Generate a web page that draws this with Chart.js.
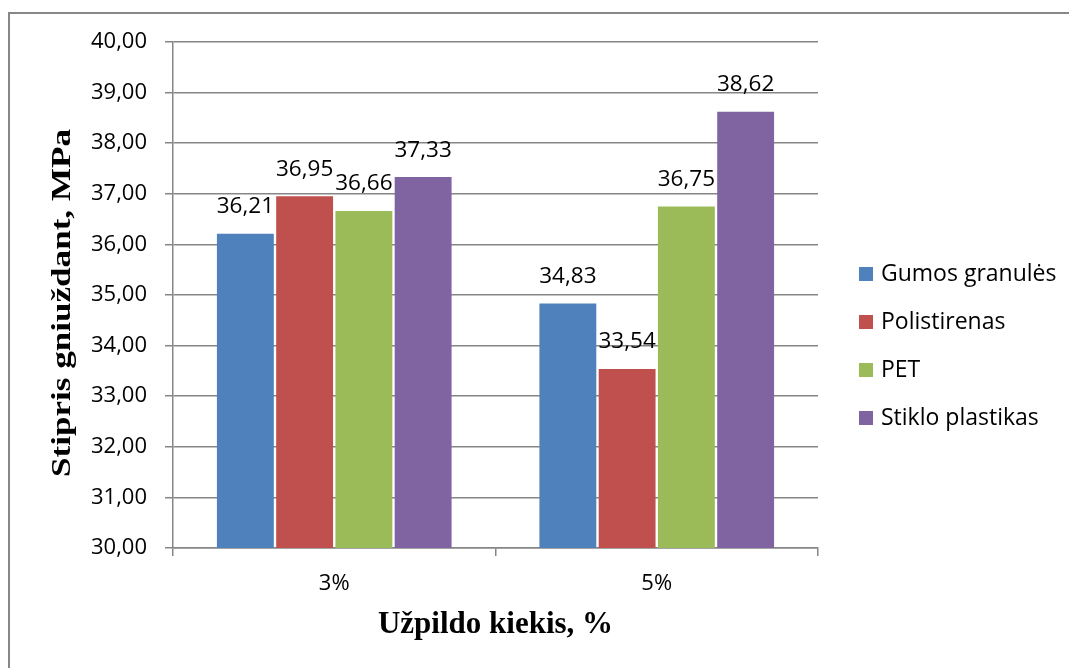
<!DOCTYPE html>
<html lang="lt">
<head>
<meta charset="utf-8">
<title>Stipris gniuždant</title>
<script src="https://cdn.jsdelivr.net/npm/chart.js@4.4.1/dist/chart.umd.min.js"></script>
<style>
  html, body { margin: 0; padding: 0; background: #fff; }
  #wrap { position: relative; width: 1069px; height: 668px; }
</style>
</head>
<body>
<div id="wrap"><canvas id="c" width="1069" height="668"></canvas></div>
<script>
// Filler amount categories
const categories = ['3%', '5%'];

// Compressive strength, MPa, per filler type
const gumosGranules = [36.21, 34.83];
const polistirenas = [36.95, 33.54];
const pet = [36.66, 36.75];
const stikloPlastikas = [37.33, 38.62];

const seriesNames = ['Gumos granulės', 'Polistirenas', 'PET', 'Stiklo plastikas'];
const seriesColors = ['#4F81BD', '#C0504D', '#9BBB59', '#8064A2'];

// Axis range and step
const yMin = 30;
const yMax = 40;
const yStep = 1;

const axisTitleY = 'Stipris gniuždant, MPa';
const axisTitleX = 'Užpildo kiekis, %';

const gridGray = '#868686';
const sansFont = "'Open Sans', 'Noto Sans', sans-serif";
const serifFont = "'Liberation Serif', 'DejaVu Serif', serif";

const fmt = v => v.toFixed(2).replace('.', ',');

// Outer frame of the chart object
const framePlugin = {
  id: 'frame',
  beforeDraw(chart) {
    const ctx = chart.ctx;
    ctx.save();
    ctx.strokeStyle = '#878787';
    ctx.lineWidth = 2;
    ctx.beginPath();
    ctx.moveTo(9, chart.height + 5);
    ctx.lineTo(9, 13);
    ctx.lineTo(chart.width + 5, 13);
    ctx.stroke();
    ctx.restore();
  }
};

// Vertical value-axis title, set in a tall condensed serif
const yTitlePlugin = {
  id: 'yTitle',
  afterDraw(chart) {
    const ctx = chart.ctx;
    const area = chart.chartArea;
    ctx.save();
    ctx.font = 'bold 28px ' + serifFont;
    ctx.fillStyle = '#000';
    ctx.textAlign = 'center';
    ctx.textBaseline = 'middle';
    const w = ctx.measureText(axisTitleY).width;
    ctx.translate(63, (area.top + area.bottom) / 2 + 8);
    ctx.rotate(-Math.PI / 2);
    ctx.scale(348 / w, 1);
    ctx.fillText(axisTitleY, 0, 0);
    ctx.restore();
  }
};

// Value labels above each bar
const valueLabels = {
  id: 'valueLabels',
  afterDatasetsDraw(chart) {
    const ctx = chart.ctx;
    ctx.save();
    ctx.font = '22.5px ' + sansFont;
    ctx.fillStyle = '#000';
    ctx.textAlign = 'center';
    ctx.textBaseline = 'middle';
    chart.data.datasets.forEach((ds, i) => {
      chart.getDatasetMeta(i).data.forEach((bar, j) => {
        ctx.fillText(fmt(ds.data[j]), bar.x, bar.y - 27);
      });
    });
    ctx.restore();
  }
};

// Legend list to the right of the plot
const sideLegend = {
  id: 'sideLegend',
  afterDraw(chart) {
    const ctx = chart.ctx;
    const area = chart.chartArea;
    const x0 = area.right + 41;
    const y0 = area.top + 232;
    ctx.save();
    ctx.font = '23px ' + sansFont;
    ctx.textAlign = 'left';
    ctx.textBaseline = 'middle';
    chart.data.datasets.forEach((ds, i) => {
      const y = y0 + i * 48;
      ctx.fillStyle = ds.backgroundColor;
      ctx.fillRect(x0, y - 7, 14, 14);
      ctx.fillStyle = '#000';
      ctx.fillText(ds.label, x0 + 22, y);
    });
    ctx.restore();
  }
};

const seriesData = [gumosGranules, polistirenas, pet, stikloPlastikas];

new Chart(document.getElementById('c'), {
  type: 'bar',
  data: {
    labels: categories,
    datasets: seriesData.map((d, i) => ({
      label: seriesNames[i],
      data: d,
      backgroundColor: seriesColors[i],
      categoryPercentage: 0.735,
      barPercentage: 0.96
    }))
  },
  options: {
    responsive: false,
    animation: false,
    events: [],
    layout: { padding: { top: 42, right: 251, bottom: 0, left: 0 } },
    plugins: {
      legend: { display: false },
      tooltip: { enabled: false }
    },
    scales: {
      x: {
        grid: {
          display: true,
          drawOnChartArea: false,
          drawTicks: true,
          tickLength: 8,
          color: gridGray,
          lineWidth: 1.5
        },
        border: { display: true, color: gridGray, width: 1.5 },
        ticks: {
          color: '#000',
          padding: 15,
          font: { family: sansFont, size: 22 }
        },
        title: {
          display: true,
          text: axisTitleX,
          color: '#000',
          font: { family: serifFont, size: 31, weight: 'bold' },
          padding: { top: 24, bottom: 24 }
        },
        afterFit(scale) {
          scale.height = 120;
          scale.paddingLeft = 0;
          scale.paddingRight = 0;
        }
      },
      y: {
        min: yMin,
        max: yMax,
        grid: {
          color: gridGray,
          lineWidth: 1.5,
          tickLength: 8
        },
        border: { display: true, color: gridGray, width: 1.5 },
        ticks: {
          stepSize: yStep,
          color: '#000',
          padding: 18,
          font: { family: sansFont, size: 22 },
          callback: v => fmt(v)
        },
        afterFit(scale) {
          scale.width = 173;
          scale.paddingTop = 0;
          scale.paddingBottom = 0;
        }
      }
    }
  },
  plugins: [framePlugin, valueLabels, sideLegend, yTitlePlugin]
});
</script>
</body>
</html>
